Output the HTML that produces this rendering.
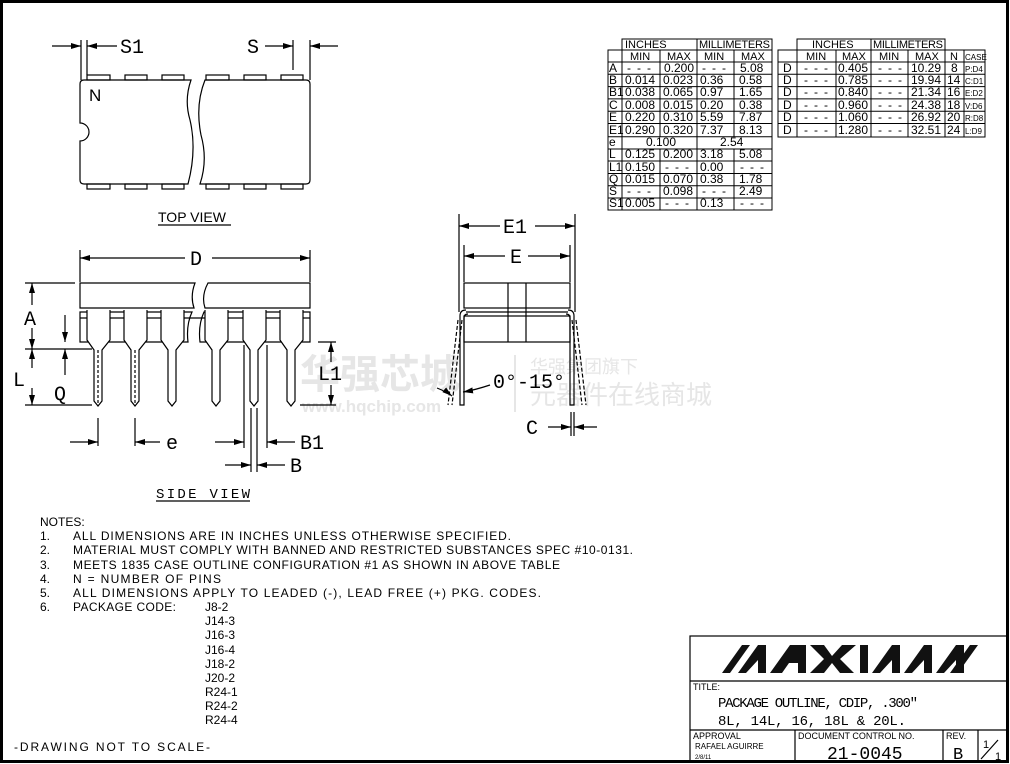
<!DOCTYPE html>
<html><head><meta charset="utf-8"><style>
html,body{margin:0;padding:0;background:#fff;}
svg{display:block;}
text{font-family:"Liberation Sans","Noto Sans CJK SC",sans-serif;fill:#000;}
.m{font-family:"Liberation Mono",monospace;}
</style></head><body>
<svg width="1010" height="764" viewBox="0 0 1010 764" xmlns="http://www.w3.org/2000/svg">
<defs>
<marker id="a" viewBox="0 0 10 6" refX="10" refY="3" markerWidth="10" markerHeight="6" orient="auto" markerUnits="userSpaceOnUse"><path d="M0,0 L10,3 L0,6z" fill="#000"/></marker>
</defs>
<rect x="1.5" y="1.5" width="1006" height="760" fill="none" stroke="#000" stroke-width="3"/>

<g>
<text x="300" y="388" font-size="40" font-weight="bold" style="fill:#e6e6e6">华强芯城</text>
<text x="302" y="412" font-size="17" font-weight="bold" style="fill:#e6e6e6">www.hqchip.com</text>
<text x="530" y="373" font-size="18" style="fill:#e6e6e6">华强集团旗下</text>
<text x="530" y="404" font-size="26" style="fill:#e6e6e6">元器件在线商城</text>
<line x1="515" y1="355" x2="515" y2="412" stroke="#e6e6e6" stroke-width="2"/>
</g>

<g stroke="#000" stroke-width="1.2" fill="none">
<path d="M84,80 H191 Q184,100 190,120 Q197,150 188,184 H84 Q80,184 80,180 V141 A9,9 0 0 0 80,123 V84 Q80,80 84,80Z"/>
<path d="M205,80 H306 Q310,80 310,84 V180 Q310,184 306,184 H200 Q208,160 201,135 Q195,105 205,80Z"/>
<g>
<rect x="87" y="75" width="23" height="5"/><rect x="125" y="75" width="22" height="5"/><rect x="162" y="75" width="22" height="5"/>
<rect x="206" y="75" width="23" height="5"/><rect x="244" y="75" width="22" height="5"/><rect x="281" y="75" width="22" height="5"/>
<rect x="87" y="184" width="23" height="5"/><rect x="125" y="184" width="22" height="5"/><rect x="162" y="184" width="22" height="5"/>
<rect x="206" y="184" width="23" height="5"/><rect x="244" y="184" width="22" height="5"/><rect x="281" y="184" width="22" height="5"/>
</g>
<line x1="81" y1="40" x2="81" y2="80"/><line x1="87" y1="40" x2="87" y2="75"/>
<line x1="52" y1="46" x2="81" y2="46" marker-end="url(#a)"/>
<line x1="117" y1="46" x2="87" y2="46" marker-end="url(#a)"/>
<line x1="293" y1="40" x2="293" y2="70"/><line x1="310" y1="40" x2="310" y2="80"/>
<line x1="265" y1="46" x2="293" y2="46" marker-end="url(#a)"/>
<line x1="338" y1="46" x2="310" y2="46" marker-end="url(#a)"/>
<line x1="158" y1="225" x2="231" y2="225"/>

<line x1="80" y1="250" x2="80" y2="282"/><line x1="310" y1="250" x2="310" y2="282"/>
<line x1="185" y1="258" x2="80" y2="258" marker-end="url(#a)"/>
<line x1="212" y1="258" x2="310" y2="258" marker-end="url(#a)"/>
<path d="M80,283 H195 Q190,296 194,308 H80Z"/>
<path d="M208,283 H310 V308 H205 Q201,296 208,283Z"/>
<path d="M80,312 H192 Q186,325 188,342 H80Z"/>
<path d="M204,312 H310 V342 H200 Q198,325 204,312Z"/>
<line x1="80" y1="318" x2="310" y2="318"/>
<g id="pin">
<path d="M87,310 V340 L94,350 V401 L98,406 L102,401 V350 L110,340 V310" fill="#fff"/>
</g>
<use href="#pin" x="37"/><use href="#pin" x="74"/><use href="#pin" x="118"/><use href="#pin" x="156"/><use href="#pin" x="193"/>
<line x1="98" y1="350" x2="98" y2="404" stroke-dasharray="3,2"/>
<line x1="135" y1="350" x2="135" y2="404" stroke-dasharray="3,2"/>
<line x1="25" y1="283" x2="75" y2="283"/>
<line x1="25" y1="349" x2="92" y2="349"/>
<line x1="25" y1="405" x2="92" y2="405"/>
<line x1="32" y1="305" x2="32" y2="283" marker-end="url(#a)"/>
<line x1="32" y1="328" x2="32" y2="349" marker-end="url(#a)"/>
<line x1="32" y1="368" x2="32" y2="349" marker-end="url(#a)"/>
<line x1="32" y1="388" x2="32" y2="405" marker-end="url(#a)"/>
<line x1="65" y1="315" x2="65" y2="342" marker-end="url(#a)"/>
<line x1="65" y1="375" x2="65" y2="349" marker-end="url(#a)"/>
<line x1="318" y1="342" x2="336" y2="342"/>
<line x1="300" y1="405" x2="336" y2="405"/>
<line x1="331" y1="362" x2="331" y2="342" marker-end="url(#a)"/>
<line x1="331" y1="385" x2="331" y2="405" marker-end="url(#a)"/>
<line x1="98" y1="418" x2="98" y2="446"/><line x1="135" y1="418" x2="135" y2="446"/>
<line x1="70" y1="442" x2="98" y2="442" marker-end="url(#a)"/>
<line x1="160" y1="442" x2="135" y2="442" marker-end="url(#a)"/>
<line x1="244" y1="345" x2="244" y2="448"/><line x1="267" y1="345" x2="267" y2="448"/>
<line x1="215" y1="442" x2="244" y2="442" marker-end="url(#a)"/>
<line x1="295" y1="442" x2="267" y2="442" marker-end="url(#a)"/>
<line x1="251" y1="408" x2="251" y2="472"/><line x1="257" y1="408" x2="257" y2="472"/>
<line x1="225" y1="465" x2="251" y2="465" marker-end="url(#a)"/>
<line x1="285" y1="465" x2="257" y2="465" marker-end="url(#a)"/>
<line x1="156" y1="501" x2="250" y2="501"/>

<line x1="459" y1="214" x2="459" y2="312"/><line x1="575" y1="214" x2="575" y2="312"/>
<line x1="500" y1="226" x2="459" y2="226" marker-end="url(#a)"/>
<line x1="535" y1="226" x2="575" y2="226" marker-end="url(#a)"/>
<line x1="464" y1="245" x2="464" y2="282"/><line x1="570" y1="245" x2="570" y2="282"/>
<line x1="505" y1="256" x2="464" y2="256" marker-end="url(#a)"/>
<line x1="528" y1="256" x2="570" y2="256" marker-end="url(#a)"/>
<rect x="464" y="283" width="106" height="25"/>
<rect x="464" y="316" width="106" height="26"/>
<line x1="508" y1="283" x2="508" y2="342"/><line x1="526" y1="283" x2="526" y2="342"/>
<line x1="466" y1="312" x2="568" y2="312"/>
<path d="M466,310 Q460,310 460,316 V405 H464 V318 Q464,314 468,314"/>
<path d="M568,310 Q574,310 574,316 V405 H570 V318 Q570,314 566,314"/>
<line x1="458" y1="320" x2="448" y2="405" stroke-dasharray="4,2"/>
<line x1="462" y1="320" x2="452" y2="405" stroke-dasharray="4,2"/>
<line x1="576" y1="320" x2="586" y2="405" stroke-dasharray="4,2"/>
<line x1="572" y1="320" x2="582" y2="405" stroke-dasharray="4,2"/>
<path d="M437,388 Q447,392 452,396" marker-end="url(#a)"/>
<path d="M490,385 Q475,390 463,392" marker-end="url(#a)"/>
<line x1="571" y1="412" x2="571" y2="436"/><line x1="574" y1="412" x2="574" y2="436"/>
<line x1="548" y1="427" x2="571" y2="427" marker-end="url(#a)"/>
<line x1="597" y1="427" x2="574" y2="427" marker-end="url(#a)"/>
</g>

<g class="m" font-size="20">
<text x="120" y="53" class="m">S1</text>
<text x="247" y="53" class="m">S</text>
<text x="190" y="265" class="m">D</text>
<text x="24" y="325" class="m">A</text>
<text x="13" y="386" class="m">L</text>
<text x="54" y="400" class="m">Q</text>
<text x="318" y="380" class="m">L1</text>
<text x="166" y="449" class="m">e</text>
<text x="300" y="449" class="m">B1</text>
<text x="290" y="472" class="m">B</text>
<text x="503" y="233" class="m">E1</text>
<text x="510" y="263" class="m">E</text>
<text x="493" y="388" class="m">0°-15°</text>
<text x="526" y="434" class="m">C</text>
</g>
<text x="89" y="101" font-size="17">N</text>
<text x="158" y="222" font-size="14">TOP VIEW</text>
<text x="156" y="498" font-size="14" class="m" textLength="94">SIDE VIEW</text>

<g stroke="#000" stroke-width="1" fill="none">
<rect x="622" y="39" width="150" height="11"/>
<line x1="697" y1="39" x2="697" y2="50"/>
<rect x="608" y="50" width="164" height="160"/>
<line x1="622" y1="50" x2="622" y2="210"/>
<line x1="660" y1="50" x2="660" y2="137"/><line x1="660" y1="149" x2="660" y2="210"/>
<line x1="697" y1="50" x2="697" y2="210"/>
<line x1="734" y1="50" x2="734" y2="137"/><line x1="734" y1="149" x2="734" y2="210"/>
<line x1="608" y1="62" x2="772" y2="62"/><line x1="608" y1="74.3" x2="772" y2="74.3"/><line x1="608" y1="86.6" x2="772" y2="86.6"/><line x1="608" y1="98.9" x2="772" y2="98.9"/><line x1="608" y1="111.2" x2="772" y2="111.2"/><line x1="608" y1="123.5" x2="772" y2="123.5"/><line x1="608" y1="136.8" x2="772" y2="136.8"/><line x1="608" y1="149" x2="772" y2="149"/><line x1="608" y1="161" x2="772" y2="161"/><line x1="608" y1="173.5" x2="772" y2="173.5"/><line x1="608" y1="185.8" x2="772" y2="185.8"/><line x1="608" y1="198" x2="772" y2="198"/>
<rect x="797" y="39" width="148" height="11"/>
<line x1="871" y1="39" x2="871" y2="50"/>
<rect x="778" y="50" width="207" height="87"/>
<line x1="797" y1="50" x2="797" y2="137"/><line x1="836" y1="50" x2="836" y2="137"/><line x1="871" y1="50" x2="871" y2="137"/><line x1="908" y1="50" x2="908" y2="137"/><line x1="945" y1="50" x2="945" y2="137"/><line x1="964" y1="50" x2="964" y2="137"/>
<line x1="778" y1="62" x2="985" y2="62"/><line x1="778" y1="74.3" x2="985" y2="74.3"/><line x1="778" y1="86.6" x2="985" y2="86.6"/><line x1="778" y1="98.9" x2="985" y2="98.9"/><line x1="778" y1="111.2" x2="985" y2="111.2"/><line x1="778" y1="123.5" x2="985" y2="123.5"/>
</g>
<g font-size="11" class="m">
<text x="625" y="48">INCHES</text><text x="699" y="48" textLength="71">MILLIMETERS</text>
<text x="630" y="60">MIN</text><text x="667" y="60">MAX</text><text x="704" y="60">MIN</text><text x="741" y="60">MAX</text>
</g>
<g font-size="12" font-family="Liberation Sans">
<text x="609" y="72">A</text><text x="627" y="72" textLength="24">---</text><text x="664" y="72">0.200</text><text x="702" y="72" textLength="24">---</text><text x="740" y="72">5.08</text>
<text x="609" y="84">B</text><text x="625" y="84">0.014</text><text x="663" y="84">0.023</text><text x="700" y="84">0.36</text><text x="739" y="84">0.58</text>
<text x="609" y="96">B1</text><text x="625" y="96">0.038</text><text x="663" y="96">0.065</text><text x="700" y="96">0.97</text><text x="739" y="96">1.65</text>
<text x="609" y="109">C</text><text x="625" y="109">0.008</text><text x="663" y="109">0.015</text><text x="700" y="109">0.20</text><text x="739" y="109">0.38</text>
<text x="609" y="121">E</text><text x="625" y="121">0.220</text><text x="663" y="121">0.310</text><text x="700" y="121">5.59</text><text x="739" y="121">7.87</text>
<text x="609" y="134">E1</text><text x="625" y="134">0.290</text><text x="663" y="134">0.320</text><text x="700" y="134">7.37</text><text x="739" y="134">8.13</text>
<text x="609" y="146">e</text><text x="646" y="146">0.100</text><text x="720" y="146">2.54</text>
<text x="609" y="158">L</text><text x="625" y="158">0.125</text><text x="663" y="158">0.200</text><text x="700" y="158">3.18</text><text x="739" y="158">5.08</text>
<text x="609" y="171">L1</text><text x="625" y="171">0.150</text><text x="665" y="171" textLength="24">---</text><text x="700" y="171">0.00</text><text x="740" y="171" textLength="24">---</text>
<text x="609" y="183">Q</text><text x="625" y="183">0.015</text><text x="663" y="183">0.070</text><text x="700" y="183">0.38</text><text x="739" y="183">1.78</text>
<text x="609" y="195">S</text><text x="627" y="195" textLength="24">---</text><text x="663" y="195">0.098</text><text x="702" y="195" textLength="24">---</text><text x="739" y="195">2.49</text>
<text x="609" y="207">S1</text><text x="625" y="207">0.005</text><text x="665" y="207" textLength="24">---</text><text x="700" y="207">0.13</text><text x="740" y="207" textLength="24">---</text>
</g>
<g font-size="11" class="m">
<text x="812" y="48">INCHES</text><text x="873" y="48" textLength="70">MILLIMETERS</text>
<text x="806" y="60">MIN</text><text x="842" y="60">MAX</text><text x="879" y="60">MIN</text><text x="915" y="60">MAX</text><text x="950" y="60">N</text>
</g>
<text x="965" y="60" font-size="8" font-family="Liberation Sans">CASE</text>
<g font-size="12" font-family="Liberation Sans">
<text x="783" y="72">D</text><text x="804" y="72" textLength="24">---</text><text x="838" y="72">0.405</text><text x="878" y="72" textLength="24">---</text><text x="911" y="72">10.29</text><text x="951" y="72">8</text>
<text x="783" y="84">D</text><text x="804" y="84" textLength="24">---</text><text x="838" y="84">0.785</text><text x="878" y="84" textLength="24">---</text><text x="911" y="84">19.94</text><text x="947" y="84">14</text>
<text x="783" y="96">D</text><text x="804" y="96" textLength="24">---</text><text x="838" y="96">0.840</text><text x="878" y="96" textLength="24">---</text><text x="911" y="96">21.34</text><text x="947" y="96">16</text>
<text x="783" y="109">D</text><text x="804" y="109" textLength="24">---</text><text x="838" y="109">0.960</text><text x="878" y="109" textLength="24">---</text><text x="911" y="109">24.38</text><text x="947" y="109">18</text>
<text x="783" y="121">D</text><text x="804" y="121" textLength="24">---</text><text x="838" y="121">1.060</text><text x="878" y="121" textLength="24">---</text><text x="911" y="121">26.92</text><text x="947" y="121">20</text>
<text x="783" y="134">D</text><text x="804" y="134" textLength="24">---</text><text x="838" y="134">1.280</text><text x="878" y="134" textLength="24">---</text><text x="911" y="134">32.51</text><text x="947" y="134">24</text>
</g>
<g font-size="8" font-family="Liberation Sans">
<text x="965" y="72">P:D4</text><text x="965" y="84">C:D1</text><text x="965" y="96">E:D2</text><text x="965" y="109">V:D6</text><text x="965" y="121">R:D8</text><text x="965" y="134">L:D9</text>
</g>

<g font-size="12" font-family="Liberation Sans">
<text x="40" y="526">NOTES:</text>
<text x="40" y="540">1.</text><text x="73" y="540" textLength="438">ALL DIMENSIONS ARE IN INCHES UNLESS OTHERWISE SPECIFIED.</text>
<text x="40" y="554">2.</text><text x="73" y="554" textLength="560">MATERIAL MUST COMPLY WITH BANNED AND RESTRICTED SUBSTANCES SPEC #10-0131.</text>
<text x="40" y="569">3.</text><text x="73" y="569" textLength="487">MEETS 1835 CASE OUTLINE CONFIGURATION #1 AS SHOWN IN ABOVE TABLE</text>
<text x="40" y="583">4.</text><text x="73" y="583" textLength="148">N = NUMBER OF PINS</text>
<text x="40" y="597">5.</text><text x="73" y="597" textLength="468">ALL DIMENSIONS APPLY TO LEADED (-), LEAD FREE (+) PKG. CODES.</text>
<text x="40" y="611">6.</text><text x="73" y="611" textLength="103">PACKAGE CODE:</text>
<text x="205" y="611">J8-2</text><text x="205" y="625">J14-3</text><text x="205" y="639">J16-3</text><text x="205" y="654">J16-4</text><text x="205" y="668">J18-2</text><text x="205" y="682">J20-2</text><text x="205" y="696">R24-1</text><text x="205" y="710">R24-2</text><text x="205" y="724">R24-4</text>
<text x="14" y="751" textLength="196">-DRAWING NOT TO SCALE-</text>
</g>

<g stroke="#000" stroke-width="1.2" fill="none">
<rect x="690" y="636" width="318" height="126"/>
<line x1="690" y1="681" x2="1008" y2="681"/>
<line x1="690" y1="730" x2="1008" y2="730"/>
<line x1="795" y1="730" x2="795" y2="762"/>
<line x1="943" y1="730" x2="943" y2="762"/>
<line x1="978" y1="730" x2="978" y2="762"/>
<line x1="981" y1="759" x2="998" y2="740"/>
</g>
<g fill="#111">
<polygon points="722,673 742,645 750,645 730,673"/>
<polygon points="738,673 758,645 766,645 766,673 758,673 758,660 746,673"/>
<polygon points="770,673 790,645 806,645 806,673 798,673 798,663 789,663 782,673"/>
<polygon points="810,645 824,645 832,656 842,645 856,645 840,659 854,673 840,673 832,663 824,673 810,673 824,659"/>
<polygon points="860,673 868,673 868,645 860,645"/>
<polygon points="872,673 892,645 900,645 900,673 892,673 892,660 880,673"/>
<polygon points="904,673 924,645 932,645 932,673 924,673 924,660 912,673"/>
<polygon points="936,673 956,645 964,645 964,673 956,673 956,660 944,673"/>
<polygon points="950,673 970,645 978,645 958,673"/>
</g>
<text x="693" y="690" font-size="9">TITLE:</text>
<text x="718" y="707" font-size="14" class="m" textLength="200">PACKAGE OUTLINE, CDIP, .300"</text>
<text x="718" y="725" font-size="14" class="m" textLength="188">8L, 14L, 16, 18L &amp; 20L.</text>
<text x="693" y="739" font-size="9">APPROVAL</text>
<text x="695" y="749" font-size="8">RAFAEL AGUIRRE</text>
<text x="695" y="759" font-size="6">2/8/11</text>
<text x="798" y="739" font-size="9">DOCUMENT CONTROL NO.</text>
<text x="827" y="759" font-size="18" class="m">21-0045</text>
<text x="946" y="739" font-size="9">REV.</text>
<text x="953" y="759" font-size="17" class="m">B</text>
<text x="983" y="748" font-size="11">1</text>
<text x="995" y="760" font-size="11">1</text>
</svg>
</body></html>
